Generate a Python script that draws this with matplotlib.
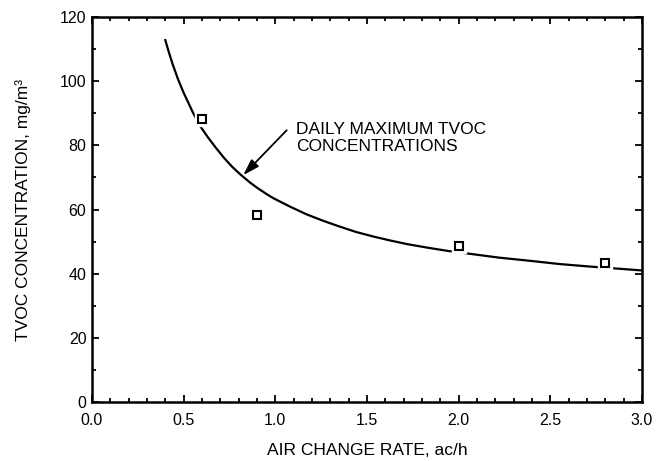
import matplotlib
matplotlib.use("Agg")
import matplotlib.pyplot as plt
from matplotlib.ticker import MultipleLocator

plt.rcParams['font.family'] = ['Liberation Sans', 'DejaVu Sans']

# Fitted curve, points
curve_x = [0.40, 0.42, 0.44, 0.47, 0.50, 0.55, 0.59, 0.635, 0.675, 0.72, 0.765, 0.81,
           0.86, 0.90, 0.95, 0.99, 1.08, 1.17, 1.26, 1.35, 1.44, 1.54, 1.63, 1.72,
           1.83, 1.94, 2.06, 2.22, 2.39, 2.55, 2.72, 2.86, 3.00]
curve_y = [112.8, 108.9, 105.3, 100.5, 96.4, 90.3, 86.0, 82.3, 79.3, 76.1, 73.3, 70.9,
           68.5, 66.8, 64.9, 63.5, 60.9, 58.5, 56.5, 54.7, 53.0, 51.5, 50.3, 49.2,
           48.1, 47.1, 46.2, 45.0, 44.0, 43.0, 42.2, 41.6, 41.0]

# Measured points
meas_x = [0.6, 0.9, 2.0, 2.8]
meas_y = [88.2, 58.3, 48.6, 43.2]

x_ticks = [0.0, 0.5, 1.0, 1.5, 2.0, 2.5, 3.0]
x_tick_labels = ['0.0', '0.5', '1.0', '1.5', '2.0', '2.5', '3.0']
y_ticks = [0, 20, 40, 60, 80, 100, 120]
y_tick_labels = ['0', '20', '40', '60', '80', '100', '120']

annot_text = 'DAILY MAXIMUM TVOC\nCONCENTRATIONS'

fig = plt.figure(figsize=(6.65, 4.61), dpi=100)
ax = fig.add_axes([0.1383, 0.128, 0.8271, 0.8351])

ax.plot(curve_x, curve_y, color='black', lw=1.6, zorder=2, solid_joinstyle='round')
ax.plot(meas_x, meas_y, ls='none', marker='s', ms=10, mfc='white', mec='white', zorder=3)
ax.plot(meas_x, meas_y, ls='none', marker='s', ms=5.2, mfc='white', mec='black', mew=1.5, zorder=4)

ax.text(1.111, 82.2, annot_text, fontsize=12.5, va='center', ha='left')
ax.annotate('', xy=(0.825, 70.7), xytext=(1.062, 84.7),
            arrowprops=dict(arrowstyle='-|>,head_length=0.7,head_width=0.22', color='black',
                            lw=1.3, mutation_scale=14, shrinkA=0, shrinkB=0))

ax.set_xlim(0, 3.0)
ax.set_ylim(0, 120)
ax.set_xticks(x_ticks)
ax.set_xticklabels(x_tick_labels)
ax.set_yticks(y_ticks)
ax.set_yticklabels(y_tick_labels)
ax.xaxis.set_minor_locator(MultipleLocator(0.1))
ax.yaxis.set_minor_locator(MultipleLocator(10))
ax.tick_params(which='both', direction='in', top=True, right=True, labelsize=11.5, width=1.3)
ax.tick_params(which='major', length=5)
ax.tick_params(which='minor', length=3)
ax.tick_params(axis='x', which='major', pad=8)
ax.tick_params(axis='y', which='major', pad=4)
for s in ax.spines.values():
    s.set_linewidth(1.8)

ax.set_xlabel('AIR CHANGE RATE, ac/h', fontsize=12.5, labelpad=11)
ax.set_ylabel('TVOC CONCENTRATION, mg/m³', fontsize=12.5, labelpad=21)

fig.savefig('out.png', dpi=100)
